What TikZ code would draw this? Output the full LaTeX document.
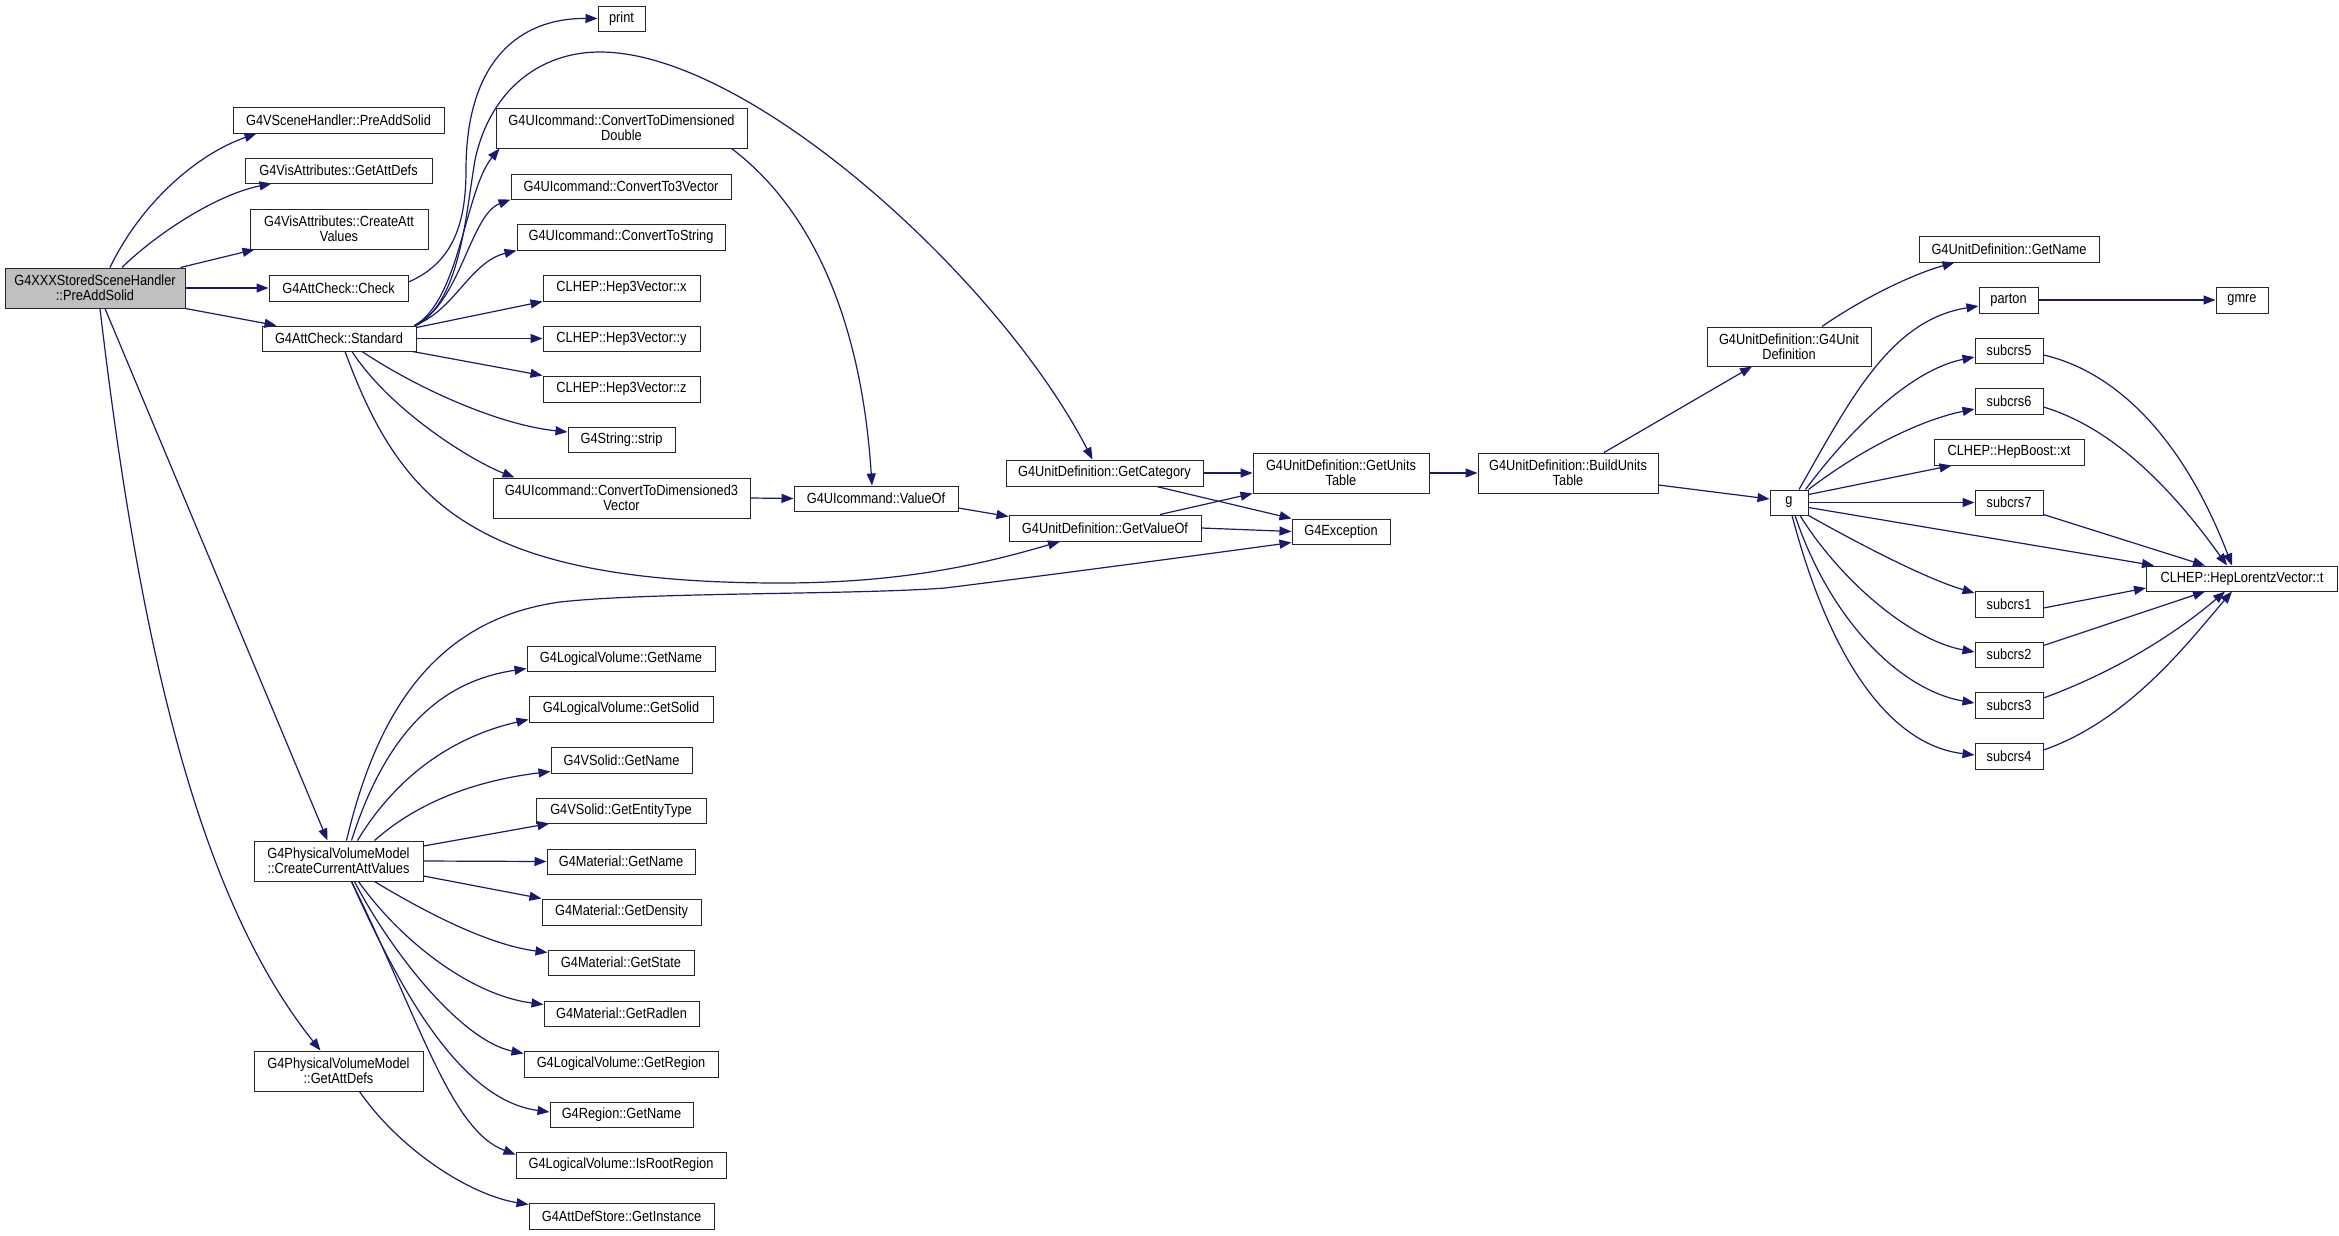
\documentclass[tikz,border=0pt]{standalone}
\usepackage{fontspec}
\setmainfont{Liberation Sans}[FakeStretch=0.87]
\usetikzlibrary{arrows.meta,calc}
\definecolor{edgec}{RGB}{25,25,112}
\definecolor{rootgray}{RGB}{191,191,191}
\newcommand\nf{\fontsize{14.7}{15}\selectfont}
\begin{document}
\begin{tikzpicture}[x=1pt,y=-1pt,
  nb/.style={draw=black!85, line width=1pt, fill=white, inner sep=0pt, align=center, font=\nf},
  sz/.style n args={2}{minimum width=#1pt, minimum height=#2pt},
  e/.style={draw=edgec, line width=1.2pt, -{Triangle[length=12pt,width=9pt]}}]
\useasboundingbox (0,0) rectangle (2339,1235);
\fill[white] (0,0) rectangle (2339,1235);
% nodes
\node[nb,fill=rootgray,sz={180}{40}] (root) at (95,288) {G4XXXStoredSceneHandler\\::PreAddSolid};
\node[nb,sz={211}{26}] (vsh) at (338.5,120) {G4VSceneHandler::PreAddSolid};
\node[nb,sz={187}{25}] (vga) at (338.5,170.5) {G4VisAttributes::GetAttDefs};
\node[nb,sz={178}{40}] (vca) at (339,229) {G4VisAttributes::CreateAtt\\Values};
\node[nb,sz={139}{26}] (chk) at (338.5,288) {G4AttCheck::Check};
\node[nb,sz={154}{25}] (std) at (339,338.5) {G4AttCheck::Standard};
\node[nb,sz={169}{40}] (pcc) at (338.5,861) {G4PhysicalVolumeModel\\::CreateCurrentAttValues};
\node[nb,sz={169}{40}] (pga) at (338.5,1071) {G4PhysicalVolumeModel\\::GetAttDefs};
\node[nb,sz={47}{25}] (print) at (621.5,18.5) {print};
\node[nb,sz={251}{40}] (cdd) at (621.5,128) {G4UIcommand::ConvertToDimensioned\\Double};
\node[nb,sz={220}{25}] (c3v) at (621,186.5) {G4UIcommand::ConvertTo3Vector};
\node[nb,sz={208}{26}] (cts) at (621,237) {G4UIcommand::ConvertToString};
\node[nb,sz={157}{26}] (hx) at (621.5,288) {CLHEP::Hep3Vector::x};
\node[nb,sz={157}{25}] (hy) at (621.5,338.5) {CLHEP::Hep3Vector::y};
\node[nb,sz={157}{26}] (hz) at (621.5,389) {CLHEP::Hep3Vector::z};
\node[nb,sz={107}{25}] (strip) at (621.5,439.5) {G4String::strip};
\node[nb,sz={257}{40}] (cd3) at (621.5,498) {G4UIcommand::ConvertToDimensioned3\\Vector};
\node[nb,sz={188}{25}] (lvn) at (621,658.5) {G4LogicalVolume::GetName};
\node[nb,sz={184}{26}] (lvs) at (621,709) {G4LogicalVolume::GetSolid};
\node[nb,sz={141}{26}] (vsn) at (621.5,760) {G4VSolid::GetName};
\node[nb,sz={170}{25}] (vse) at (621,810.5) {G4VSolid::GetEntityType};
\node[nb,sz={148}{25}] (mn) at (621,861.5) {G4Material::GetName};
\node[nb,sz={159}{26}] (md) at (621.5,912) {G4Material::GetDensity};
\node[nb,sz={146}{25}] (ms) at (621,962.5) {G4Material::GetState};
\node[nb,sz={155}{25}] (mr) at (621.5,1013.5) {G4Material::GetRadlen};
\node[nb,sz={194}{26}] (lvr) at (621,1064) {G4LogicalVolume::GetRegion};
\node[nb,sz={143}{25}] (rn) at (621.5,1114.5) {G4Region::GetName};
\node[nb,sz={210}{26}] (lvrr) at (621,1165) {G4LogicalVolume::IsRootRegion};
\node[nb,sz={185}{26}] (ads) at (621.5,1216) {G4AttDefStore::GetInstance};
\node[nb,sz={164}{25}] (vo) at (876,498.5) {G4UIcommand::ValueOf};
\node[nb,sz={197}{26}] (gc) at (1104.5,473) {G4UnitDefinition::GetCategory};
\node[nb,sz={192}{26}] (gvo) at (1105,528) {G4UnitDefinition::GetValueOf};
\node[nb,sz={176}{40}] (gut) at (1341,473) {G4UnitDefinition::GetUnits\\Table};
\node[nb,sz={98}{25}] (exc) at (1341,531.5) {G4Exception};
\node[nb,sz={180}{40}] (but) at (1568,473) {G4UnitDefinition::BuildUnits\\Table};
\node[nb,sz={164}{39}] (ud) at (1789,346.5) {G4UnitDefinition::G4Unit\\Definition};
\node[nb,sz={38}{25}] (g) at (1789,502.5) {g};
\node[nb,sz={180}{26}] (udn) at (2009,249) {G4UnitDefinition::GetName};
\node[nb,sz={59}{26}] (parton) at (2008.5,300) {parton};
\node[nb,sz={52}{26}] (gmre) at (2242,300) {gmre};
\node[nb,sz={68}{25}] (s5) at (2009,350.5) {subcrs5};
\node[nb,sz={68}{26}] (s6) at (2009,401) {subcrs6};
\node[nb,sz={150}{26}] (hbxt) at (2009,452) {CLHEP::HepBoost::xt};
\node[nb,sz={68}{25}] (s7) at (2009,502.5) {subcrs7};
\node[nb,sz={191}{25}] (hlt) at (2242,578.5) {CLHEP::HepLorentzVector::t};
\node[nb,sz={68}{26}] (s1) at (2009,604) {subcrs1};
\node[nb,sz={68}{25}] (s2) at (2009,654.5) {subcrs2};
\node[nb,sz={68}{26}] (s3) at (2009,705) {subcrs3};
\node[nb,sz={68}{26}] (s4) at (2009,756) {subcrs4};
% edges from root
\draw[e] ([xshift=15pt]root.north) .. controls (140,205) and (195,155) .. ([xshift=24pt]vsh.south west);
\draw[e] ([xshift=27pt]root.north) .. controls (155,235) and (215,195) .. ([xshift=27pt]vga.south west);
\draw[e] ([xshift=-5pt]root.north east) -- ([xshift=5pt]vca.south west);
\draw[e] (root.east) -- (chk.west);
\draw[e] (root.south east) -- ([xshift=15pt]std.north west);
\draw[e] ([xshift=10pt]root.south) -- ([xshift=-11pt]pcc.north);
\draw[e] ([xshift=5pt]root.south) .. controls (140,650) and (200,900) .. ([xshift=-18pt]pga.north);
% check / standard
\draw[e] ([yshift=6pt]chk.east) .. controls (455,262) and (466,220) .. (466,170) .. controls (466,60) and (520,18) .. (print.west);
\draw[e] (std.north east) .. controls (460,300) and (465,220) .. (475,160) .. controls (490,90) and (540,52) .. (600,52) .. controls (750,52) and (1000,280) .. ([xshift=-12pt]gc.north);
\draw[e] ([xshift=-2pt]std.north east) .. controls (460,300) and (465,190) .. ([xshift=4pt]cdd.south west);
\draw[e] ([xshift=-2pt]std.north east) .. controls (460,305) and (470,215) .. (c3v.south west);
\draw[e] ([xshift=-2pt]std.north east) .. controls (455,310) and (470,262) .. (cts.south west);
\draw[e] ([yshift=-2pt]std.north east) -- (hx.south west);
\draw[e] (std.east) -- (hy.west);
\draw[e] ([xshift=-4pt]std.south east) -- (hz.north west);
\draw[e] ([xshift=23pt]std.south) .. controls (420,390) and (500,425) .. ([yshift=7.5pt]strip.west);
\draw[e] ([xshift=13pt]std.south) .. controls (390,410) and (470,460) .. ([xshift=22pt]cd3.north west);
\draw[e] ([xshift=6pt]std.south) .. controls (400,500) and (470,583) .. (780,583) .. controls (900,583) and (980,565) .. ([xshift=-45pt]gvo.south);
% value of chain
\draw[e] ([xshift=-16pt]cdd.south east) .. controls (800,200) and (860,300) .. ([xshift=-4pt]vo.north);
\draw[e] (cd3.east) -- (vo.west);
\draw[e] ([yshift=-9.5pt]vo.east) -- ([yshift=-2pt]gvo.north west);
\draw[e] (gc.east) -- (gut.west);
\draw[e] ([xshift=52pt]gc.south) -- (exc.north west);
\draw[e] ([xshift=55pt]gvo.north) -- (gut.south west);
\draw[e] (gvo.east) -- (exc.west);
\draw[e] ([xshift=8pt]pcc.north) .. controls (375,720) and (430,620) .. (560,602) .. controls (650,592) and (850,595) .. (945,588) .. controls (1050,575) and (1200,555) .. ([yshift=2pt]exc.south west);
\draw[e] (gut.east) -- (but.west);
\draw[e] ([xshift=36pt]but.north) -- ([xshift=-37pt]ud.south);
\draw[e] ([yshift=-12pt]but.east) -- ([yshift=3.5pt]g.west);
\draw[e] ([xshift=33pt]ud.north) .. controls (1860,300) and (1910,275) .. ([xshift=36pt]udn.south west);
% g fan
\draw[e] (parton.east) -- (gmre.west);
\draw[e] ([xshift=10pt]g.north) .. controls (1850,400) and (1890,320) .. ([yshift=-6pt]parton.west);
\draw[e] ([xshift=-3pt]g.north east) .. controls (1850,430) and (1910,370) .. ([yshift=-6.5pt]s5.west);
\draw[e] (g.north east) .. controls (1860,450) and (1920,420) .. ([yshift=-8pt]s6.west);
\draw[e] ([yshift=-5pt]g.north east) -- ([xshift=18pt]hbxt.south west);
\draw[e] (g.east) -- (s7.west);
\draw[e] ([yshift=-5pt]g.east) -- ([xshift=8pt]hlt.north west);
\draw[e] (g.south east) .. controls (1870,550) and (1930,580) .. ([yshift=11pt]s1.west);
\draw[e] ([xshift=11pt]g.south) .. controls (1840,580) and (1910,640) .. ([yshift=2.5pt]s2.west);
\draw[e] ([xshift=6pt]g.south) .. controls (1830,620) and (1900,690) .. ([yshift=2pt]s3.west);
\draw[e] ([xshift=3pt]g.south) .. controls (1830,660) and (1890,745) .. ([yshift=1pt]s4.west);
\draw[e] ([yshift=-4.5pt]s5.east) .. controls (2110,370) and (2180,430) .. ([xshift=-10pt]hlt.north);
\draw[e] ([yshift=-6pt]s6.east) .. controls (2120,430) and (2180,500) .. ([xshift=-15pt]hlt.north);
\draw[e] ([yshift=-12pt]s7.east) -- ([xshift=-37pt]hlt.north);
\draw[e] ([yshift=-4pt]s1.east) -- ([yshift=-9.5pt]hlt.west);
\draw[e] ([yshift=9pt]s2.east) -- ([xshift=-37pt]hlt.south);
\draw[e] ([yshift=7pt]s3.east) .. controls (2120,670) and (2180,630) .. ([xshift=-17pt]hlt.south);
\draw[e] ([yshift=6pt]s4.east) .. controls (2130,720) and (2190,640) .. ([xshift=-10pt]hlt.south);
% physical volume model
\draw[e] ([xshift=13pt]pcc.north) .. controls (390,720) and (450,680) .. ([yshift=3pt]lvn.south west);
\draw[e] ([xshift=19pt]pcc.north) .. controls (400,770) and (460,735) .. ([yshift=3pt]lvs.south west);
\draw[e] ([xshift=36pt]pcc.north) .. controls (420,800) and (480,780) .. ([yshift=2pt]vsn.south west);
\draw[e] ([yshift=15pt]pcc.east) -- ([xshift=14pt]vse.south west);
\draw[e] (pcc.east) -- (mn.west);
\draw[e] ([yshift=-15pt]pcc.east) -- (md.north west);
\draw[e] ([xshift=36pt]pcc.south) .. controls (430,915) and (490,945) .. ([yshift=-3pt]ms.north west);
\draw[e] ([xshift=20pt]pcc.south) .. controls (400,940) and (470,995) .. ([yshift=-4pt]mr.north west);
\draw[e] ([xshift=16pt]pcc.south) .. controls (390,950) and (460,1040) .. ([yshift=-3pt]lvr.north west);
\draw[e] ([xshift=13pt]pcc.south) .. controls (400,990) and (460,1100) .. ([yshift=2.5pt]rn.west);
\draw[e] ([xshift=13pt]pcc.south) .. controls (420,1020) and (450,1130) .. ([yshift=-3pt]lvrr.north west);
\draw[e] ([xshift=21pt]pga.south) .. controls (400,1150) and (470,1195) .. ([yshift=-2pt]ads.north west);
\end{tikzpicture}
\end{document}
